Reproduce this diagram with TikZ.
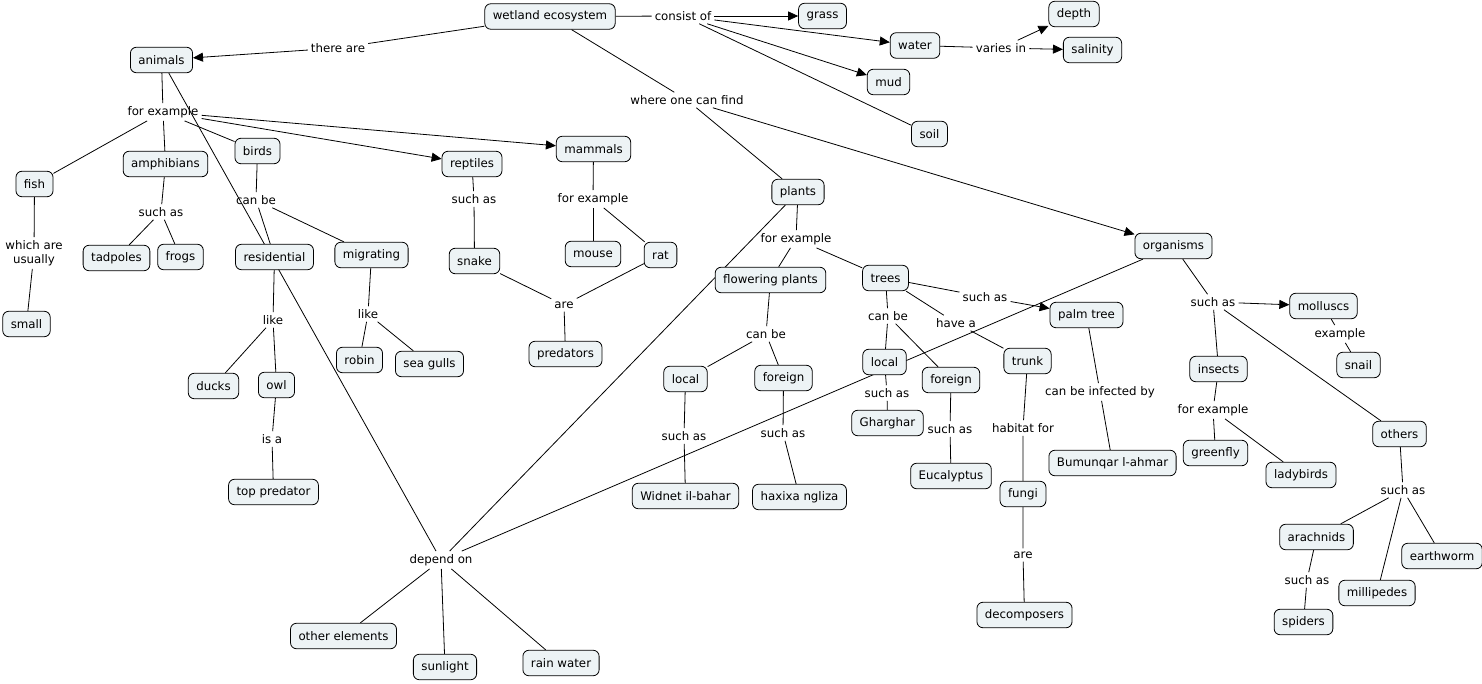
\documentclass[tikz,border=0pt]{standalone}
\usepackage{fontspec}
\setmainfont{DejaVu Sans}
\usepackage{xcolor}
\usetikzlibrary{arrows.meta,positioning}
\definecolor{conceptfill}{RGB}{237,243,245}
\pgfdeclarelayer{background}
\pgfsetlayers{background,main}

\begin{document}
\begin{tikzpicture}[
    x=1pt, y=-1pt,
    font=\fontsize{11.8}{14}\selectfont,
    concept/.style={draw, rectangle, rounded corners=6pt, fill=conceptfill, line width=0.8pt, minimum height=25.5pt, inner xsep=8pt, inner ysep=2pt},
    link/.style={inner sep=3pt, align=center},
    line/.style={draw, line width=0.8pt},
    arr/.style={line, -{Triangle[length=10pt,width=9pt]}}
]
    \useasboundingbox (0,0) rectangle (1482,684);

    \node[concept] (wetland) at (550,16.5) {wetland ecosystem};
    \node[concept] (grass) at (822.5,16) {grass};
    \node[concept] (water) at (915,45.5) {water};
    \node[concept] (depth) at (1074,14) {depth};
    \node[concept] (salinity) at (1092.5,50) {salinity};
    \node[concept] (mud) at (888.5,82) {mud};
    \node[concept] (soil) at (929.5,134) {soil};
    \node[concept] (animals) at (161.5,60) {animals};
    \node[concept] (fish) at (34.5,184) {fish};
    \node[concept] (amphibians) at (165.5,164) {amphibians};
    \node[concept] (birds) at (257.5,151) {birds};
    \node[concept] (reptiles) at (472,164) {reptiles};
    \node[concept] (mammals) at (593.5,149) {mammals};
    \node[concept] (tadpoles) at (116.5,258) {tadpoles};
    \node[concept] (frogs) at (180.5,257) {frogs};
    \node[concept] (residential) at (274.5,257) {residential};
    \node[concept] (migrating) at (371.5,255) {migrating};
    \node[concept] (snake) at (474.5,261) {snake};
    \node[concept] (mouse) at (593,254) {mouse};
    \node[concept] (rat) at (660.5,255) {rat};
    \node[concept] (small) at (26.5,324) {small};
    \node[concept] (ducks) at (213.5,386) {ducks};
    \node[concept] (owl) at (276.5,385) {owl};
    \node[concept] (robin) at (359.5,360) {robin};
    \node[concept] (seagulls) at (429.5,364) {sea gulls};
    \node[concept] (predators) at (565.5,354) {predators};
    \node[concept] (toppredator) at (273.5,492) {top predator};
    \node[concept] (plants) at (798,192) {plants};
    \node[concept] (flowering) at (770.5,280) {flowering plants};
    \node[concept] (trees) at (885.5,278) {trees};
    \node[concept] (organisms) at (1173.5,246) {organisms};
    \node[concept] (palmtree) at (1086.5,315) {palm tree};
    \node[concept] (molluscs) at (1323.5,306) {molluscs};
    \node[concept] (snail) at (1358.5,365) {snail};
    \node[concept] (localfl) at (685.5,379) {local};
    \node[concept] (foreignfl) at (783.5,378) {foreign};
    \node[concept] (localtr) at (884.5,362) {local};
    \node[concept] (foreigntr) at (951,380) {foreign};
    \node[concept] (trunk) at (1027.5,361) {trunk};
    \node[concept] (gharghar) at (887.5,423) {Gharghar};
    \node[concept] (insects) at (1218.5,369) {insects};
    \node[concept] (others) at (1399.5,434) {others};
    \node[concept] (widnet) at (685.5,496) {Widnet il-bahar};
    \node[concept] (haxixa) at (799.5,497) {haxixa ngliza};
    \node[concept] (eucalyptus) at (951,476) {Eucalyptus};
    \node[concept] (fungi) at (1023,494) {fungi};
    \node[concept] (bumunqar) at (1112.5,463) {Bumunqar l-ahmar};
    \node[concept] (greenfly) at (1215.5,453) {greenfly};
    \node[concept] (ladybirds) at (1301,475) {ladybirds};
    \node[concept] (arachnids) at (1316.5,537) {arachnids};
    \node[concept] (millipedes) at (1377,593) {millipedes};
    \node[concept] (earthworm) at (1442,556) {earthworm};
    \node[concept] (spiders) at (1303.5,622) {spiders};
    \node[concept] (decomposers) at (1024.5,615) {decomposers};
    \node[concept] (otherelem) at (343.5,636) {other elements};
    \node[concept] (sunlight) at (445,667) {sunlight};
    \node[concept] (rainwater) at (561,663) {rain water};

    % linking phrases
    \node[link] (thereare) at (338,48) {there are};
    \node[link] (consistof) at (683,16) {consist of};
    \node[link] (variesin) at (1001,48) {varies in};
    \node[link] (wherefind) at (687,100) {where one can find};
    \node[link] (forexanimals) at (163,112) {for example};
    \node[link] (whichare) at (34,253) {which are\\usually};
    \node[link] (suchasamph) at (161,212) {such as};
    \node[link] (canbebirds) at (256,200) {can be};
    \node[link] (suchasrept) at (474,199) {such as};
    \node[link] (forexmamm) at (593,199) {for example};
    \node[link] (arepred) at (564,305) {are};
    \node[link] (likeres) at (273,320) {like};
    \node[link] (likemig) at (368,314) {like};
    \node[link] (isa) at (272,439) {is a};
    \node[link] (dependon) at (441,560) {depend on};
    \node[link] (forexplants) at (796,239) {for example};
    \node[link] (suchastrees) at (985,297) {such as};
    \node[link] (canbetrees) at (888,316) {can be};
    \node[link] (havea) at (956,323) {have a};
    \node[link] (canbefl) at (766,334) {can be};
    \node[link] (suchaslocfl) at (684,436) {such as};
    \node[link] (suchasforfl) at (783,433) {such as};
    \node[link] (suchasloctr) at (887,393) {such as};
    \node[link] (suchasfortr) at (950,429) {such as};
    \node[link] (habitatfor) at (1023,428) {habitat for};
    \node[link] (arefungi) at (1023,555) {are};
    \node[link] (infectedby) at (1100,392) {can be infected by};
    \node[link] (suchasorg) at (1213,302) {such as};
    \node[link] (example) at (1340,334) {example};
    \node[link] (forexinsects) at (1213,410) {for example};
    \node[link] (suchasothers) at (1403,490) {such as};
    \node[link] (suchasarach) at (1307,580) {such as};

    \begin{pgfonlayer}{background}
    \draw[line] (wetland) -- (thereare);
    \draw[arr] (thereare) -- (animals);
    \draw[line] (wetland) -- (consistof);
    \draw[arr] (consistof) -- (grass);
    \draw[arr] (consistof) -- (water);
    \draw[arr] (consistof) -- (mud);
    \draw[line] (consistof) -- (soil);
    \draw[line] (water) -- (variesin);
    \draw[arr] (variesin) -- (depth);
    \draw[arr] (variesin) -- (salinity);
    \draw[line] (wetland) -- (wherefind);
    \draw[line] (wherefind) -- (plants);
    \draw[arr] (wherefind) -- (organisms);

    \draw[line] (animals) -- (forexanimals);
    \draw[line] (forexanimals) -- (fish);
    \draw[line] (forexanimals) -- (amphibians);
    \draw[line] (forexanimals) -- (birds);
    \draw[arr] (forexanimals) -- (reptiles);
    \draw[arr] (forexanimals) -- (mammals);
    \draw[line] (fish) -- (whichare) -- (small);
    \draw[line] (amphibians) -- (suchasamph);
    \draw[line] (suchasamph) -- (tadpoles);
    \draw[line] (suchasamph) -- (frogs);
    \draw[line] (birds) -- (canbebirds);
    \draw[line] (canbebirds) -- (residential);
    \draw[line] (canbebirds) -- (migrating);
    \draw[line] (residential) -- (likeres);
    \draw[line] (likeres) -- (ducks);
    \draw[line] (likeres) -- (owl);
    \draw[line] (owl) -- (isa) -- (toppredator);
    \draw[line] (migrating) -- (likemig);
    \draw[line] (likemig) -- (robin);
    \draw[line] (likemig) -- (seagulls);
    \draw[line] (reptiles) -- (suchasrept) -- (snake);
    \draw[line] (mammals) -- (forexmamm);
    \draw[line] (forexmamm) -- (mouse);
    \draw[line] (forexmamm) -- (rat);
    \draw[line] (snake) -- (arepred);
    \draw[line] (rat) -- (arepred);
    \draw[line] (arepred) -- (predators);

    \draw[line] (animals) -- (dependon);
    \draw[line] (plants) -- (dependon);
    \draw[line] (organisms) -- (dependon);
    \draw[line] (dependon) -- (otherelem);
    \draw[line] (dependon) -- (sunlight);
    \draw[line] (dependon) -- (rainwater);

    \draw[line] (plants) -- (forexplants);
    \draw[line] (forexplants) -- (flowering);
    \draw[line] (forexplants) -- (trees);
    \draw[line] (flowering) -- (canbefl);
    \draw[line] (canbefl) -- (localfl);
    \draw[line] (canbefl) -- (foreignfl);
    \draw[line] (localfl) -- (suchaslocfl) -- (widnet);
    \draw[line] (foreignfl) -- (suchasforfl) -- (haxixa);
    \draw[line] (trees) -- (canbetrees);
    \draw[line] (canbetrees) -- (localtr);
    \draw[line] (canbetrees) -- (foreigntr);
    \draw[line] (localtr) -- (suchasloctr) -- (gharghar);
    \draw[line] (foreigntr) -- (suchasfortr) -- (eucalyptus);
    \draw[line] (trees) -- (havea) -- (trunk);
    \draw[line] (trunk) -- (habitatfor) -- (fungi);
    \draw[line] (fungi) -- (arefungi) -- (decomposers);
    \draw[line] (trees) -- (suchastrees);
    \draw[arr] (suchastrees) -- (palmtree);
    \draw[line] (palmtree) -- (infectedby) -- (bumunqar);

    \draw[line] (organisms) -- (suchasorg);
    \draw[arr] (suchasorg) -- (molluscs);
    \draw[line] (suchasorg) -- (insects);
    \draw[line] (suchasorg) -- (others);
    \draw[line] (molluscs) -- (example) -- (snail);
    \draw[line] (insects) -- (forexinsects);
    \draw[line] (forexinsects) -- (greenfly);
    \draw[line] (forexinsects) -- (ladybirds);
    \draw[line] (others) -- (suchasothers);
    \draw[line] (suchasothers) -- (arachnids);
    \draw[line] (suchasothers) -- (millipedes);
    \draw[line] (suchasothers) -- (earthworm);
    \draw[line] (arachnids) -- (suchasarach) -- (spiders);
    \end{pgfonlayer}
\end{tikzpicture}
\end{document}
